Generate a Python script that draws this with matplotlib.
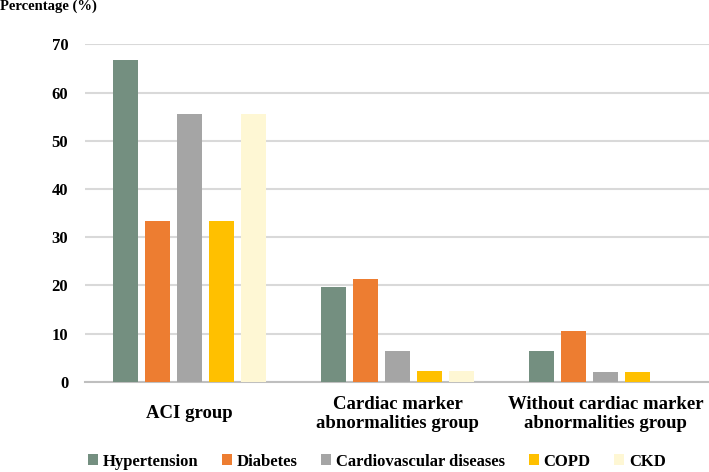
import matplotlib
matplotlib.use('Agg')
import matplotlib.pyplot as plt
import numpy as np

# Data
groups = ['ACI group', 'Cardiac marker\nabnormalities group', 'Without cardiac marker\nabnormalities group']
diseases = ['Hypertension', 'Diabetes', 'Cardiovascular diseases', 'COPD', 'CKD']
hypertension = [66.7, 19.6, 6.4]
diabetes = [33.3, 21.3, 10.6]
cardiovascular = [55.6, 6.4, 2.1]
copd = [33.3, 2.2, 2.1]
ckd = [55.6, 2.2, 0.0]
colors = ['#748F80', '#ED7D31', '#A5A5A5', '#FFC000', '#FEF7D4']

plt.rcParams['font.family'] = ['Liberation Serif', 'DejaVu Serif']
plt.rcParams['font.weight'] = 'bold'

fig = plt.figure(figsize=(7.09, 4.72), dpi=100)
ax = fig.add_axes([0.1199, 0.1913, 0.8815, 0.7148])

x = np.arange(len(groups))
pitch = 0.1535
width = 0.12
series = [hypertension, diabetes, cardiovascular, copd, ckd]
for i, (vals, name, c) in enumerate(zip(series, diseases, colors)):
    ax.bar(x + (i - 2) * pitch, vals, width, color=c, label=name, zorder=3)

ax.set_xlim(-0.5, 2.5)
ax.set_ylim(0, 70)
ax.set_yticks(np.arange(0, 71, 10))
ax.grid(axis='y', color='#D9D9D9', linewidth=1.5, zorder=0)
for s in ['top', 'right', 'left']:
    ax.spines[s].set_visible(False)
ax.spines['bottom'].set_color('#BFBFBF')
ax.spines['bottom'].set_linewidth(1.5)
ax.tick_params(axis='both', length=0)
ax.tick_params(axis='y', labelsize=12, pad=12)
ax.set_xticks(x)
ax.set_xticklabels(groups, fontsize=13.5, linespacing=1.15, va='center')
ax.tick_params(axis='x', pad=23)

fig.text(0.0, 0.987, 'Percentage (%)', fontsize=10.5, ha='left', va='center')

fig.legend(loc='center', bbox_to_anchor=(377 / 709, 0.022), ncol=5, frameon=False,
           fontsize=12, handlelength=0.6, handleheight=0.6, handletextpad=0.3,
           columnspacing=1.4, borderaxespad=0, borderpad=0)

fig.savefig('out.png', dpi=100)
